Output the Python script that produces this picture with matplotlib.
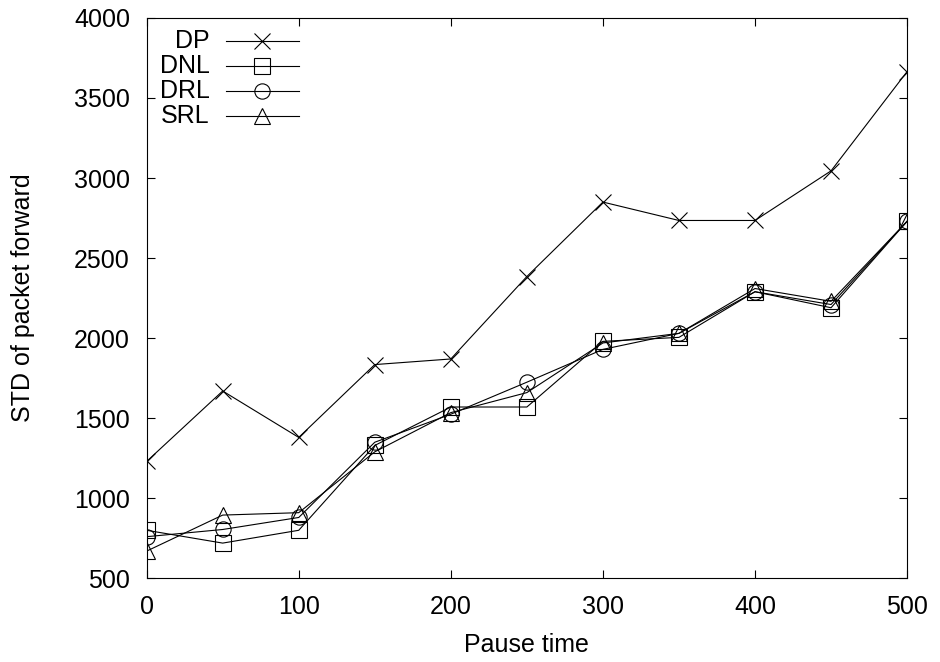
import matplotlib
matplotlib.use("Agg")
import matplotlib.pyplot as plt
from matplotlib.lines import Line2D

plt.rcParams["font.family"] = ["Liberation Sans", "DejaVu Sans"]

pause = [0, 50, 100, 150, 200, 250, 300, 350, 400, 450, 500]
dp = [1230, 1670, 1380, 1835, 1870, 2385, 2850, 2735, 2735, 3045, 3665]
dnl = [800, 720, 800, 1330, 1570, 1570, 1980, 2005, 2290, 2190, 2730]
drl = [760, 805, 880, 1350, 1525, 1725, 1930, 2030, 2290, 2210, 2730]
srl = [670, 895, 910, 1290, 1535, 1660, 1970, 2030, 2310, 2230, 2730]

series = [("DP", dp, "x"), ("DNL", dnl, "s"), ("DRL", drl, "o"), ("SRL", srl, "^")]
MS = 11

fig = plt.figure(figsize=(9.4, 6.62), dpi=100)
ax = fig.add_axes([0.156, 0.1264, 0.809, 0.8465])

for name, vals, m in series:
    ax.plot(pause, vals, color="black", lw=0.8, marker=m, ms=MS,
            mfc="none", mec="black", mew=0.8)

ax.set_xlim(0, 500)
ax.set_ylim(500, 4000)
ax.set_xticks(range(0, 501, 100))
ax.set_yticks(range(500, 4001, 500))
ax.tick_params(direction="in", length=6, width=0.8, top=True, right=True,
               labelsize=18, pad=12)
for s in ax.spines.values():
    s.set_linewidth(0.8)
ax.set_xlabel("Pause time", fontsize=18, labelpad=10)
ax.set_ylabel("STD of packet forward", fontsize=18, labelpad=28)

# gnuplot-style key: labels right-aligned, sample line to the right
for i, (name, vals, m) in enumerate(series):
    y = 0.958 - i * 0.0446
    ax.text(0.083, y, name, transform=ax.transAxes, ha="right", va="center",
            fontsize=18)
    ax.add_line(Line2D([0.104, 0.2], [y, y], transform=ax.transAxes,
                       color="black", lw=0.8))
    ax.add_line(Line2D([0.152], [y], transform=ax.transAxes, marker=m,
                       ms=MS, mfc="none", mec="black", mew=0.8))

fig.savefig("out.png", dpi=100)
